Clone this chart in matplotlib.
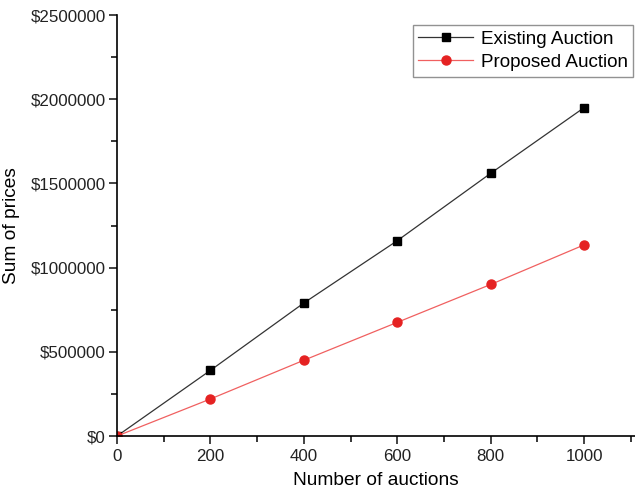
import matplotlib.pyplot as plt
from matplotlib.ticker import MultipleLocator, FuncFormatter

plt.rcParams['font.family'] = ['Liberation Sans', 'DejaVu Sans']

auctions = [0, 200, 400, 600, 800, 1000]
existing = [0, 390000, 790000, 1160000, 1560000, 1950000]
proposed = [0, 220000, 450000, 675000, 900000, 1135000]

fig = plt.figure(figsize=(6.35, 5.01), dpi=100)
ax = fig.add_axes([0.1843, 0.1297, 0.8157, 0.8403])

ax.plot(auctions, existing, color='#333333', lw=0.9, marker='s', ms=5.5,
        mfc='black', mec='black', label='Existing Auction')
ax.plot(auctions, proposed, color='#f06060', lw=0.9, marker='o', ms=6.5,
        mfc='#e52222', mec='#e52222', label='Proposed Auction')

ax.set_xlim(0, 1109)
ax.set_ylim(0, 2500000)
ax.xaxis.set_major_locator(MultipleLocator(200))
ax.xaxis.set_minor_locator(MultipleLocator(100))
ax.yaxis.set_major_locator(MultipleLocator(500000))
ax.yaxis.set_minor_locator(MultipleLocator(250000))
ax.yaxis.set_major_formatter(FuncFormatter(lambda v, p: '$%d' % v))

for side in ['top', 'right']:
    ax.spines[side].set_visible(False)
for side in ['left', 'bottom']:
    ax.spines[side].set_linewidth(1.2)

ax.tick_params(which='major', direction='out', length=6, width=1.2,
               labelsize=12.2, colors='#222222', pad=3)
ax.tick_params(axis='y', which='major', pad=2)
ax.tick_params(which='minor', direction='out', length=4, width=1.1)

ax.set_xlabel('Number of auctions', fontsize=13.8, labelpad=6)
ax.set_ylabel('Sum of prices', fontsize=13.8, labelpad=8)

leg = ax.legend(loc='upper left', bbox_to_anchor=(0.571, 0.976), fontsize=13.6,
                frameon=True, fancybox=False, borderpad=0.3, labelspacing=0.3,
                handlelength=2.9, handletextpad=0.4, borderaxespad=0)
leg.get_frame().set_edgecolor('#777777')
leg.get_frame().set_linewidth(1.0)

fig.savefig('out.png', dpi=100)
